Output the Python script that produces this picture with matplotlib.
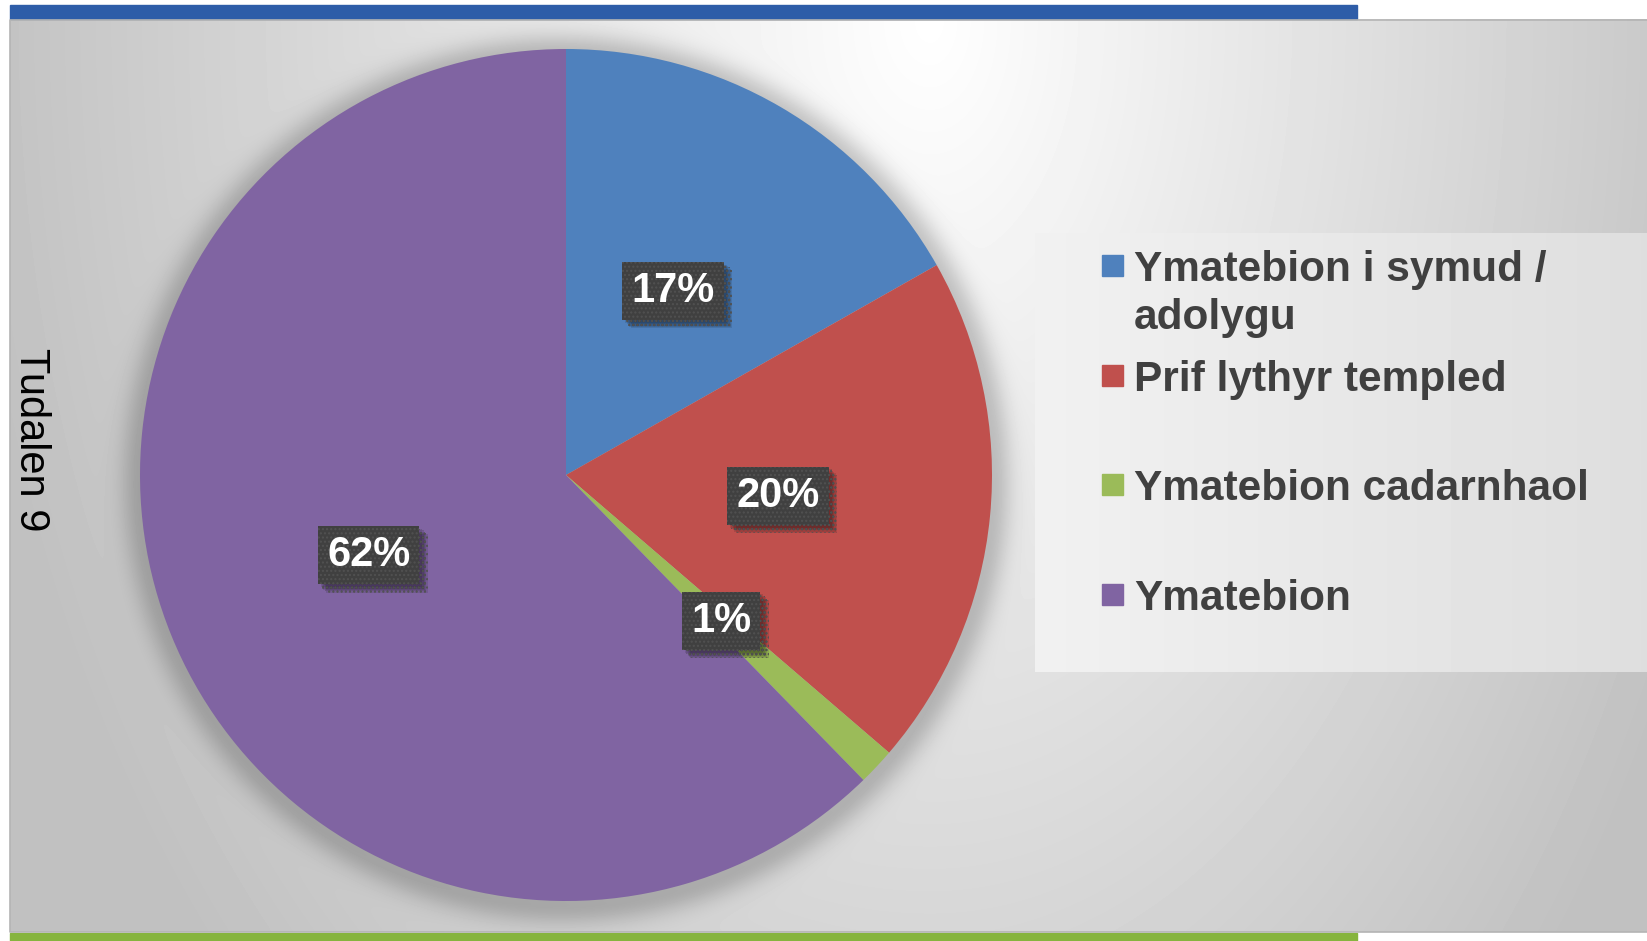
import matplotlib
matplotlib.use("Agg")
import matplotlib.pyplot as plt
import matplotlib.patheffects as pe
from matplotlib.patches import Rectangle
from matplotlib.lines import Line2D
import numpy as np

# data
labels = ["Ymatebion i symud /\nadolygu", "Prif lythyr templed",
          "Ymatebion cadarnhaol", "Ymatebion"]
values = [16.8, 19.5, 1.4, 62.3]
colors = ["#4F81BD", "#C0504D", "#9BBB59", "#8064A2"]
page_label = "Tudalen 9"

W, H = 1647, 941
fig = plt.figure(figsize=(W / 100, H / 100), dpi=100)
fig.patch.set_facecolor("white")


def fx(px):
    return px / W


def fy(py):
    return 1 - py / H


# background gradient (light at top centre) with soft shadow round the pie
bg = fig.add_axes([fx(10), fy(932), (W - 10) / W, (932 - 19) / H])
yy, xx = np.mgrid[19:932, 10:W].astype(float)
cx = 930.0
sx = np.where(xx < cx, 900.0, 780.0)
d = np.sqrt(((xx - cx) / sx) ** 2 + ((yy - 20) / 1300.0) ** 2)
val = np.clip(255 - 58 * d, 193, 255)
r = np.hypot(xx - 566, yy - 479) - 426
val = val * (1 - 0.2 * np.exp(-(np.clip(r, 0, None) / 20.0) ** 2))
bg.imshow(val, cmap="gray", vmin=0, vmax=255, aspect="auto",
          extent=(10, W, 932, 19), interpolation="bilinear")
bg.axis("off")
# thin edges of the grey panel (top, left, bottom)
fig.add_artist(Line2D([fx(W), fx(10), fx(10), fx(W)],
                      [fy(19.5), fy(19.5), fy(932), fy(932)],
                      color="#b4b4b4", linewidth=1.2))

# top and bottom bars
fig.patches.append(Rectangle((fx(10), fy(19)), fx(1357) - fx(10), 14 / H,
                             transform=fig.transFigure, color="#2E5DA8"))
fig.patches.append(Rectangle((fx(10), fy(941)), fx(1357) - fx(10), 8 / H,
                             transform=fig.transFigure, color="#86B43E"))

# legend panel
lg = fig.add_axes([fx(1035), fy(672), (W - 1035) / W, (672 - 233) / H])
grad = np.linspace(241, 222, 200)[None, :] * np.ones((10, 1))
lg.imshow(grad, cmap="gray", vmin=0, vmax=255, aspect="auto",
          extent=(0, 1, 0, 1))
lg.axis("off")

# pie
ax = fig.add_axes([fx(140), fy(901), 852 / W, 852 / H])
wedges, _, autotexts = ax.pie(values, colors=colors, startangle=90,
                              counterclock=False, radius=1,
                              autopct="%.0f%%", pctdistance=0.5,
                              textprops=dict(color="white", fontsize=30,
                                             fontweight="bold",
                                             family="Liberation Sans"))
ax.set_xlim(-1, 1)
ax.set_ylim(-1, 1)
ax.set_aspect("equal")
ax.axis("off")

for t in autotexts:
    t.set_bbox(dict(boxstyle="square,pad=0.22", facecolor="#404040",
                    edgecolor="#515151", linewidth=0, hatch="...."))
    t.get_bbox_patch().set_path_effects(
        [pe.SimplePatchShadow(offset=(o, -o), shadow_rgbFace="black", alpha=0.1)
         for o in (2, 3, 4, 5, 6)] + [pe.Normal()])

# legend entries
base_y = [281, 391, 500, 610]
line_gap = 48
for w, lab, by in zip(wedges, labels, base_y):
    fig.patches.append(Rectangle((fx(1102), fy(by - 5)), 21 / W, 21 / H,
                                 transform=fig.transFigure,
                                 color=w.get_facecolor()))
    fig.text(fx(1134), fy(by + line_gap * lab.count("\n")), lab,
             ha="left", va="baseline", fontsize=30.5, fontweight="bold",
             family="Liberation Sans", color="#404040", linespacing=1.26)

# page label
fig.text(fx(31), fy(440), page_label, rotation=-90, ha="center", va="center",
         fontsize=30, family="Liberation Sans", color="black")

fig.savefig("out.png", dpi=100)
